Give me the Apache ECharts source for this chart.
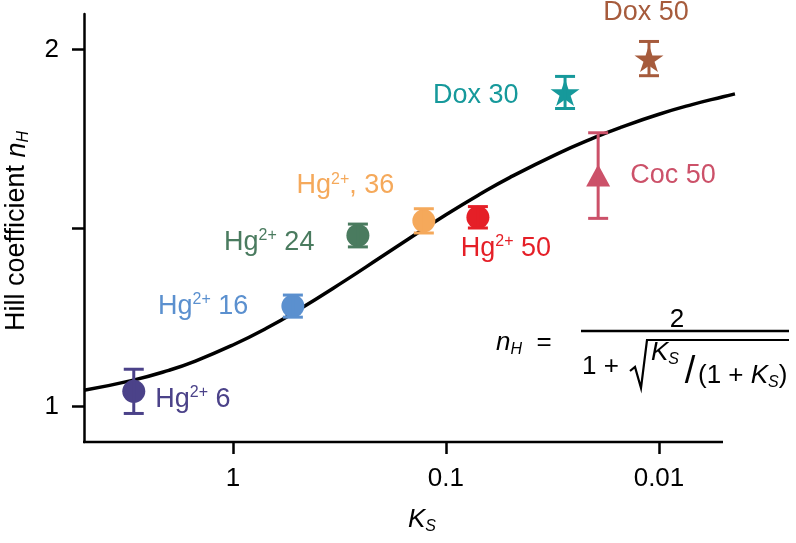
<!DOCTYPE html>
<html>
<head>
<meta charset="utf-8">
<script src="https://cdn.jsdelivr.net/npm/echarts@6/dist/echarts.min.js"></script>
<style>
html,body{margin:0;padding:0;background:#fff;}
#chart{width:796px;height:543px;}
</style>
</head>
<body>
<div id="chart"></div>
<script>
// ---- data ----
const pointLabels = ['Hg{sup|2+} 6', 'Hg{sup|2+} 16', 'Hg{sup|2+} 24', 'Hg{sup|2+}, 36', 'Hg{sup|2+} 50', 'Coc 50', 'Dox 30', 'Dox 50'];
const ksValues  = [2.92, 0.523, 0.259, 0.127, 0.0708, 0.0193, 0.0276, 0.01114];
const nhValues  = [1.042, 1.281, 1.479, 1.520, 1.530, 1.647, 1.880, 1.975];
const errValues = [0.062, 0.031, 0.032, 0.034, 0.030, 0.120, 0.045, 0.048];
const curveKs = [5, 3, 2, 1.5, 1, 0.7, 0.5, 0.3, 0.2, 0.15, 0.1, 0.07, 0.05, 0.03, 0.02, 0.015, 0.01, 0.007, 0.005, 0.0044];
const curveNh = [1.045, 1.072, 1.101, 1.127, 1.172, 1.218, 1.268, 1.351, 1.420, 1.469, 1.537, 1.593, 1.642, 1.708, 1.754, 1.783, 1.819, 1.846, 1.868, 1.876];
const xTickValues = [1, 0.1, 0.01];
const xTickLabels = ['1', '0.1', '0.01'];
const yTickValues = [1, 1.5, 2];
const yLabelValues = [1, 2];

// ---- styles ----
const colors = ['#4b4289', '#5b90cf', '#4a7b5f', '#f5a95b', '#e51f27', '#cc5169', '#16999b', '#a65b3c'];
const STAR = 'path://M50,0 L61.2,34.5 L97.6,34.5 L68.2,55.9 L79.4,90.5 L50,69.1 L20.6,90.5 L31.8,55.9 L2.4,34.5 L38.8,34.5 Z';
const symbols = ['circle', 'circle', 'circle', 'circle', 'circle', 'triangle', STAR, STAR];
const symbolSizes = [23, 23, 23, 23, 23, [24, 22], [29, 27], [29, 27]];
const labelCfg = [
  {position: 'right', distance: 10, offset: [0, 8]},
  {position: 'left', distance: 33, offset: [0, 0]},
  {position: 'left', distance: 32, offset: [0, 7]},
  {position: 'left', distance: 18, offset: [0, -35]},
  {position: 'bottom', distance: 5, offset: [28, 0]},
  {position: 'right', distance: 20, offset: [0, 0]},
  {position: 'left', distance: 32, offset: [0, 3]},
  {position: 'top', distance: 19, offset: [-3, 0]}
];
const FONT = '"Liberation Sans", Arial, sans-serif';

const scatterData = ksValues.map((k, i) => ({
  value: [k, nhValues[i]],
  symbol: symbols[i],
  symbolSize: symbolSizes[i],
  itemStyle: {color: colors[i], opacity: 1},
  label: Object.assign({
    show: true,
    formatter: pointLabels[i],
    color: colors[i],
    fontSize: 27,
    fontFamily: FONT,
    rich: {sup: {fontSize: 16, color: colors[i], fontFamily: FONT, padding: [0, 0, 13, 0]}}
  }, labelCfg[i])
}));
const errData = ksValues.map((k, i) => [k, nhValues[i] - errValues[i], nhValues[i] + errValues[i], i]);
const curveData = curveKs.map((k, i) => [k, curveNh[i]]);

const chart = echarts.init(document.getElementById('chart'));
const txt = {fontFamily: FONT, fill: '#000'};
const itl = {fontStyle: 'italic', fontSize: 26, fontFamily: FONT};
const sub = {fontStyle: 'italic', fontSize: 16, fontFamily: FONT, padding: [14, 0, 0, 0]};
const plain = {fontSize: 26, fontFamily: FONT};
chart.setOption({
  animation: false,
  grid: {left: 84, right: 60, top: 14, bottom: 101, outerBoundsMode: 'none'},
  xAxis: {
    type: 'log', logBase: 10, inverse: true, min: 0.00435, max: 5,
    axisLine: {show: false},
    axisTick: {show: true, length: 12, lineStyle: {color: '#000', width: 2.5}, customValues: xTickValues},
    axisLabel: {customValues: xTickValues, margin: 24, fontSize: 26, color: '#000', fontFamily: FONT,
      formatter: v => { const j = xTickValues.findIndex(t => Math.abs(Math.log10(t) - Math.log10(v)) < 1e-6); return j >= 0 ? xTickLabels[j] : ''; }},
    splitLine: {show: false}, minorTick: {show: false}
  },
  yAxis: {
    type: 'value', min: 0.9, max: 2.1,
    axisLine: {show: true, lineStyle: {color: '#000', width: 2.5}},
    axisTick: {show: true, length: 12, lineStyle: {color: '#000', width: 2.5}, customValues: yTickValues},
    axisLabel: {customValues: yLabelValues, margin: 25, fontSize: 26, color: '#000', fontFamily: FONT},
    splitLine: {show: false}
  },
  series: [
    {
      type: 'line', data: curveData, smooth: true, showSymbol: false, symbol: 'none', clip: false,
      lineStyle: {color: '#000', width: 3.5}, z: 1
    },
    {
      type: 'custom', data: errData, z: 3, clip: false,
      renderItem: (params, api) => {
        const x = api.value(0), lo = api.value(1), hi = api.value(2), ci = api.value(3);
        const a = api.coord([x, hi]), b = api.coord([x, lo]);
        const hw = 10, st = {stroke: colors[ci], lineWidth: 3};
        return {type: 'group', children: [
          {type: 'line', shape: {x1: a[0], y1: a[1], x2: b[0], y2: b[1]}, style: st},
          {type: 'line', shape: {x1: a[0] - hw, y1: a[1], x2: a[0] + hw, y2: a[1]}, style: st},
          {type: 'line', shape: {x1: b[0] - hw, y1: b[1], x2: b[0] + hw, y2: b[1]}, style: st}
        ]};
      }
    },
    {type: 'scatter', data: scatterData, z: 2}
  ],
  graphic: [
    // x axis line (stops short of the curve's end)
    {type: 'line', shape: {x1: 83, y1: 442, x2: 723, y2: 442}, style: {stroke: '#000', lineWidth: 2.5}},
    // y axis title
    {type: 'text', x: 17, y: 231, rotation: Math.PI / 2, style: Object.assign({}, txt, {
      text: 'Hill coefficient {i|n}{sub|H}', fontSize: 27, align: 'center', verticalAlign: 'middle',
      rich: {i: Object.assign({}, itl, {fontSize: 27}), sub: sub}})},
    // x axis title
    {type: 'text', x: 422, y: 520, style: Object.assign({}, txt, {
      text: '{i|K}{sub|S}', align: 'center', verticalAlign: 'middle', rich: {i: itl, sub: sub}})},
    // formula
    {type: 'text', x: 496, y: 343, style: Object.assign({}, txt, {
      text: '{i|n}{sub|H}{t|  =}', align: 'left', verticalAlign: 'middle', rich: {i: itl, sub: sub, t: plain}})},
    {type: 'line', shape: {x1: 581, y1: 331, x2: 789, y2: 331}, style: {stroke: '#000', lineWidth: 2.5}},
    {type: 'text', x: 677, y: 320, style: Object.assign({}, txt, {text: '2', fontSize: 26, align: 'center', verticalAlign: 'middle'})},
    {type: 'text', x: 582, y: 367, style: Object.assign({}, txt, {text: '1 +', fontSize: 26, align: 'left', verticalAlign: 'middle'})},
    {type: 'polyline', shape: {points: [[630, 371], [635, 367], [641, 388], [647, 340], [789, 340]]}, style: {stroke: '#000', lineWidth: 2.2, fill: null}},
    {type: 'text', x: 651, y: 353, style: Object.assign({}, txt, {
      text: '{i|K}{sub|S}', align: 'left', verticalAlign: 'middle', rich: {i: itl, sub: sub}})},
    {type: 'text', x: 690, y: 373, style: Object.assign({}, txt, {text: '/', fontSize: 38, align: 'center', verticalAlign: 'middle'})},
    {type: 'text', x: 698, y: 376, style: Object.assign({}, txt, {
      text: '{t|(1 + }{i|K}{sub|S}{t|)}', align: 'left', verticalAlign: 'middle', rich: {t: plain, i: itl, sub: sub}})}
  ]
});
</script>
</body>
</html>
